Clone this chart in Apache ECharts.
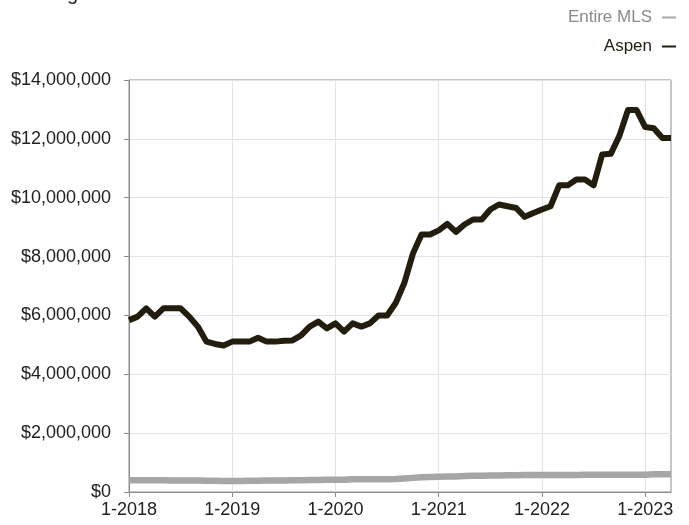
<!DOCTYPE html>
<html>
<head>
<meta charset="utf-8">
<script src="https://cdn.jsdelivr.net/npm/echarts@6/dist/echarts.min.js"></script>
<style>
  html, body { margin: 0; padding: 0; background: #fff; }
  #chart { width: 689px; height: 525px; }
</style>
</head>
<body>
<div id="chart"></div>
<script>
// Monthly, 1-2018 .. 4-2023
var years = [2018, 2019, 2020, 2021, 2022, 2023];
var monthsInLastYear = 4;

// Aspen median sales price (rolling 12 months), in $ millions
var aspen = [
  5.84, 5.96, 6.24, 5.96, 6.24, 6.24, 6.24, 5.96, 5.62, 5.11, 5.03, 4.98,
  5.11, 5.11, 5.11, 5.24, 5.11, 5.11, 5.14, 5.15, 5.32, 5.62, 5.79, 5.56,
  5.73, 5.45, 5.73, 5.62, 5.73, 6.0, 6.0, 6.42, 7.1, 8.1, 8.75, 8.75,
  8.89, 9.11, 8.84, 9.09, 9.26, 9.26, 9.6, 9.77, 9.71, 9.65, 9.35, 9.48,
  9.6, 9.71, 10.42, 10.42, 10.62, 10.62, 10.42, 11.47, 11.49, 12.1, 12.98, 12.98,
  12.4, 12.36, 12.03, 12.03
].map(function(v) { return Math.round(v * 1e6); });

// Entire MLS median sales price (rolling 12 months), in $ millions
var entireMLS = [
  0.40, 0.40, 0.40, 0.40, 0.40, 0.39, 0.39, 0.39, 0.39, 0.38, 0.38, 0.37,
  0.37, 0.37, 0.38, 0.38, 0.39, 0.39, 0.39, 0.40, 0.40, 0.41, 0.41, 0.42,
  0.42, 0.42, 0.43, 0.43, 0.43, 0.43, 0.43, 0.44, 0.46, 0.48, 0.50, 0.51,
  0.52, 0.53, 0.53, 0.54, 0.55, 0.55, 0.56, 0.56, 0.57, 0.57, 0.58, 0.58,
  0.58, 0.58, 0.58, 0.58, 0.58, 0.59, 0.59, 0.59, 0.59, 0.59, 0.59, 0.59,
  0.59, 0.60, 0.60, 0.60
].map(function(v) { return Math.round(v * 1e6); });

var yTicks = [0, 2000000, 4000000, 6000000, 8000000, 10000000, 12000000, 14000000];

var months = [];
years.forEach(function(y, i) {
  var n = i === years.length - 1 ? monthsInLastYear : 12;
  for (var m = 1; m <= n; m++) months.push(m + '-' + y);
});

var ink = '#231d0e';
var grey = '#a6a6a6';
var axisGrey = '#8c8c8c';
var font = '"Liberation Sans", Arial, Helvetica, sans-serif';

function yearStart(idx) { return idx % 12 === 0; }

var chart = echarts.init(document.getElementById('chart'), null, { renderer: 'canvas' });
chart.setOption({
  animation: false,
  textStyle: { fontFamily: font },
  // the title sits mostly above the visible area in the reference
  title: {
    text: 'Rolling 12-Month Calculation',
    left: 17,
    top: -16,
    padding: 0,
    textStyle: { fontSize: 20, fontWeight: 'normal', color: '#222', fontFamily: font }
  },
  legend: {
    orient: 'vertical',
    right: 8,
    top: 4,
    align: 'right',
    itemGap: 12,
    icon: 'rect',
    itemWidth: 14,
    itemHeight: 2,
    data: [
      { name: 'Entire MLS', textStyle: { color: '#8a8a8a' } },
      { name: 'Aspen', textStyle: { color: ink } }
    ],
    textStyle: { fontSize: 17, fontFamily: font, padding: [0, 5, 0, 0] }
  },
  grid: {
    left: 129,
    right: 18,
    top: 80,
    bottom: 33,
    show: true,
    borderColor: axisGrey,
    borderWidth: 1
  },
  xAxis: {
    type: 'category',
    data: months,
    boundaryGap: false,
    axisLine: { lineStyle: { color: axisGrey } },
    axisTick: { interval: function(i) { return yearStart(i); }, length: 5, lineStyle: { color: axisGrey } },
    axisLabel: {
      interval: function(i) { return yearStart(i); },
      color: '#222',
      fontSize: 18,
      margin: 9,
      fontFamily: font
    },
    splitLine: {
      show: true,
      interval: function(i) { return yearStart(i); },
      lineStyle: { color: '#e2e2e2' }
    }
  },
  yAxis: {
    type: 'value',
    min: yTicks[0],
    max: yTicks[yTicks.length - 1],
    interval: 2000000,
    axisLine: { show: true, lineStyle: { color: axisGrey } },
    axisTick: { show: true, length: 5, lineStyle: { color: axisGrey } },
    axisLabel: {
      color: '#222',
      fontSize: 18,
      margin: 18,
      fontFamily: font,
      formatter: function(v) { return '$' + v.toLocaleString('en-US'); }
    },
    splitLine: { lineStyle: { color: '#e2e2e2' } }
  },
  series: [
    {
      name: 'Entire MLS',
      type: 'line',
      data: entireMLS,
      symbol: 'none',
      lineStyle: { color: grey, width: 6.5 },
      itemStyle: { color: grey }
    },
    {
      name: 'Aspen',
      type: 'line',
      data: aspen,
      symbol: 'none',
      lineStyle: { color: ink, width: 6, join: 'round' },
      itemStyle: { color: ink }
    }
  ]
});
</script>
</body>
</html>
